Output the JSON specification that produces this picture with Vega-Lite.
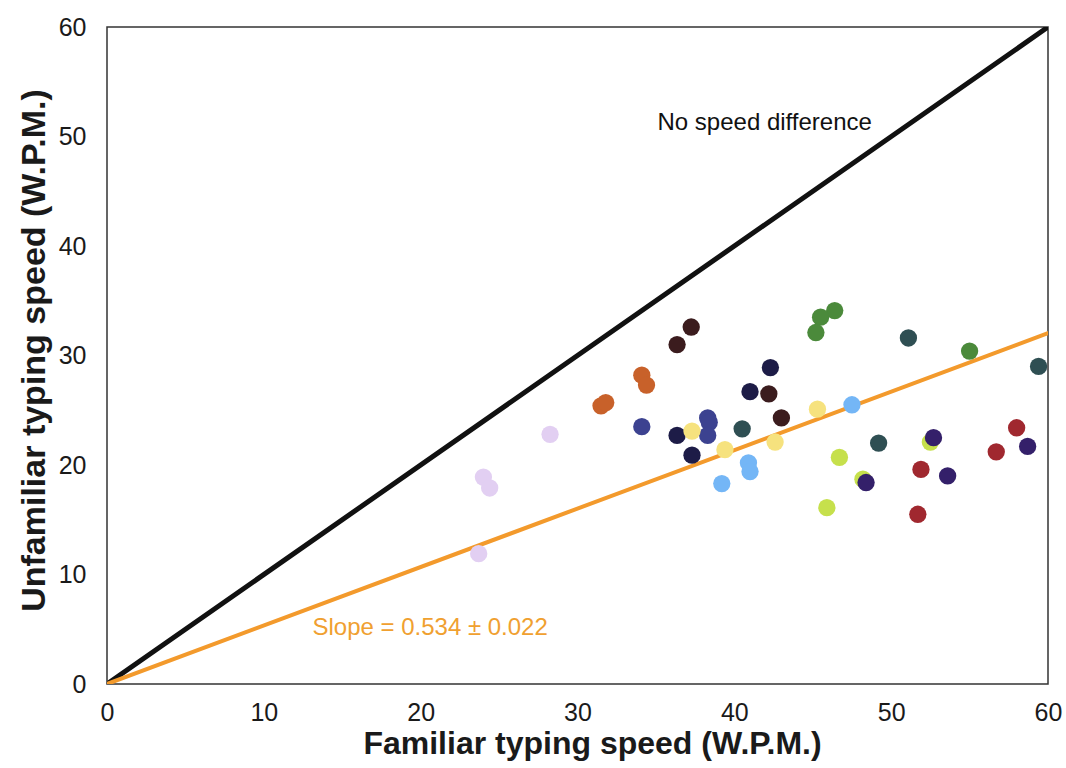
{
  "$schema": "https://vega.github.io/schema/vega-lite/v6.json",
  "autosize": "none",
  "width": 941,
  "height": 657,
  "padding": {"left": 107, "top": 27, "right": 18, "bottom": 84},
  "background": "white",
  "config": {
    "font": "Liberation Sans",
    "view": {"stroke": "#333333", "strokeWidth": 1.5},
    "axis": {
      "grid": false,
      "domain": false,
      "ticks": false,
      "labelFlush": false,
      "labelFont": "Liberation Sans",
      "labelFontSize": 25,
      "labelColor": "#1a1a1a",
      "titleFont": "Liberation Sans",
      "titleFontSize": 32,
      "titleFontWeight": "bold",
      "titleColor": "#1a1a1a"
    }
  },
  "datasets": {
    "speeds": [
      {"group": "A", "familiar": 37.25, "unfamiliar": 32.6},
      {"group": "A", "familiar": 36.35, "unfamiliar": 31.0},
      {"group": "A", "familiar": 42.2, "unfamiliar": 26.5},
      {"group": "A", "familiar": 43.0, "unfamiliar": 24.3},
      {"group": "B", "familiar": 34.1, "unfamiliar": 28.2},
      {"group": "B", "familiar": 34.4, "unfamiliar": 27.3},
      {"group": "B", "familiar": 31.5, "unfamiliar": 25.4},
      {"group": "B", "familiar": 31.8, "unfamiliar": 25.7},
      {"group": "C", "familiar": 34.1, "unfamiliar": 23.5},
      {"group": "C", "familiar": 38.3, "unfamiliar": 24.3},
      {"group": "C", "familiar": 38.4, "unfamiliar": 23.9},
      {"group": "C", "familiar": 38.3, "unfamiliar": 22.7},
      {"group": "D", "familiar": 28.25, "unfamiliar": 22.8},
      {"group": "D", "familiar": 24.0, "unfamiliar": 18.9},
      {"group": "D", "familiar": 24.4, "unfamiliar": 17.9},
      {"group": "D", "familiar": 23.7, "unfamiliar": 11.9},
      {"group": "E", "familiar": 36.35, "unfamiliar": 22.7},
      {"group": "E", "familiar": 37.3, "unfamiliar": 20.9},
      {"group": "E", "familiar": 41.0, "unfamiliar": 26.7},
      {"group": "E", "familiar": 42.3, "unfamiliar": 28.9},
      {"group": "F", "familiar": 37.3, "unfamiliar": 23.1},
      {"group": "F", "familiar": 39.4, "unfamiliar": 21.4},
      {"group": "F", "familiar": 45.3, "unfamiliar": 25.1},
      {"group": "F", "familiar": 42.6, "unfamiliar": 22.1},
      {"group": "H", "familiar": 40.5, "unfamiliar": 23.3},
      {"group": "H", "familiar": 51.1, "unfamiliar": 31.6},
      {"group": "H", "familiar": 59.4, "unfamiliar": 29.0},
      {"group": "H", "familiar": 49.2, "unfamiliar": 22.0},
      {"group": "I", "familiar": 40.9, "unfamiliar": 20.2},
      {"group": "I", "familiar": 41.0, "unfamiliar": 19.4},
      {"group": "I", "familiar": 39.2, "unfamiliar": 18.3},
      {"group": "I", "familiar": 47.5, "unfamiliar": 25.5},
      {"group": "J", "familiar": 46.4, "unfamiliar": 34.1},
      {"group": "J", "familiar": 45.5, "unfamiliar": 33.5},
      {"group": "J", "familiar": 45.2, "unfamiliar": 32.1},
      {"group": "J", "familiar": 55.0, "unfamiliar": 30.4},
      {"group": "K", "familiar": 52.5, "unfamiliar": 22.1},
      {"group": "K", "familiar": 46.7, "unfamiliar": 20.7},
      {"group": "K", "familiar": 48.2, "unfamiliar": 18.7},
      {"group": "K", "familiar": 45.9, "unfamiliar": 16.1},
      {"group": "L", "familiar": 52.7, "unfamiliar": 22.5},
      {"group": "L", "familiar": 48.4, "unfamiliar": 18.4},
      {"group": "L", "familiar": 53.6, "unfamiliar": 19.0},
      {"group": "L", "familiar": 58.7, "unfamiliar": 21.7},
      {"group": "M", "familiar": 51.9, "unfamiliar": 19.6},
      {"group": "M", "familiar": 56.7, "unfamiliar": 21.2},
      {"group": "M", "familiar": 58.0, "unfamiliar": 23.4},
      {"group": "M", "familiar": 51.7, "unfamiliar": 15.5}
    ],
    "identity": [
      {"familiar": 0, "unfamiliar": 0},
      {"familiar": 60, "unfamiliar": 60}
    ],
    "fit": [
      {"familiar": 0, "unfamiliar": 0},
      {"familiar": 60, "unfamiliar": 32.04}
    ],
    "identityNote": [
      {"familiar": 35.1, "unfamiliar": 51.2, "label": "No speed difference"}
    ],
    "fitNote": [
      {"familiar": 13.1, "unfamiliar": 5.1, "label": "Slope = 0.534 ± 0.022"}
    ]
  },
  "encoding": {
    "x": {
      "field": "familiar",
      "type": "quantitative",
      "scale": {"domain": [0, 60], "nice": false, "zero": true},
      "axis": {"title": "Familiar typing speed (W.P.M.)", "values": [0, 10, 20, 30, 40, 50, 60], "labelPadding": 16, "titlePadding": 3, "titleX": 485, "titleAlign": "center"}
    },
    "y": {
      "field": "unfamiliar",
      "type": "quantitative",
      "scale": {"domain": [0, 60], "nice": false},
      "axis": {"title": "Unfamiliar typing speed (W.P.M.)", "values": [0, 10, 20, 30, 40, 50, 60], "labelPadding": 21, "titlePadding": 7, "titleFontSize": 34, "titleY": 323, "titleAlign": "center"}
    }
  },
  "layer": [
    {
      "data": {"name": "identity"},
      "mark": {"type": "line", "color": "#111111", "strokeWidth": 5, "strokeCap": "round", "clip": true}
    },
    {
      "data": {"name": "fit"},
      "mark": {"type": "line", "color": "#f39a2c", "strokeWidth": 4, "strokeCap": "round", "clip": true}
    },
    {
      "data": {"name": "speeds"},
      "mark": {"type": "point", "shape": "circle", "filled": true, "size": 300, "opacity": 1},
      "encoding": {
        "color": {
          "field": "group",
          "type": "nominal",
          "legend": null,
          "scale": {
            "domain": ["A", "B", "C", "D", "E", "F", "H", "I", "J", "K", "L", "M"],
            "range": ["#3b1c1e", "#c8612a", "#3c4290", "#e2cff2", "#1d1c47", "#f6e27e", "#2f4f53", "#74b6f6", "#4b8a3b", "#c6e04c", "#34206a", "#a0282f"]
          }
        }
      }
    },
    {
      "data": {"name": "identityNote"},
      "mark": {"type": "text", "align": "left", "baseline": "middle", "fontSize": 24, "font": "Liberation Sans", "color": "#111111"},
      "encoding": {"text": {"field": "label"}}
    },
    {
      "data": {"name": "fitNote"},
      "mark": {"type": "text", "align": "left", "baseline": "middle", "fontSize": 24, "font": "Liberation Sans", "color": "#f0a030"},
      "encoding": {"text": {"field": "label"}}
    }
  ]
}
